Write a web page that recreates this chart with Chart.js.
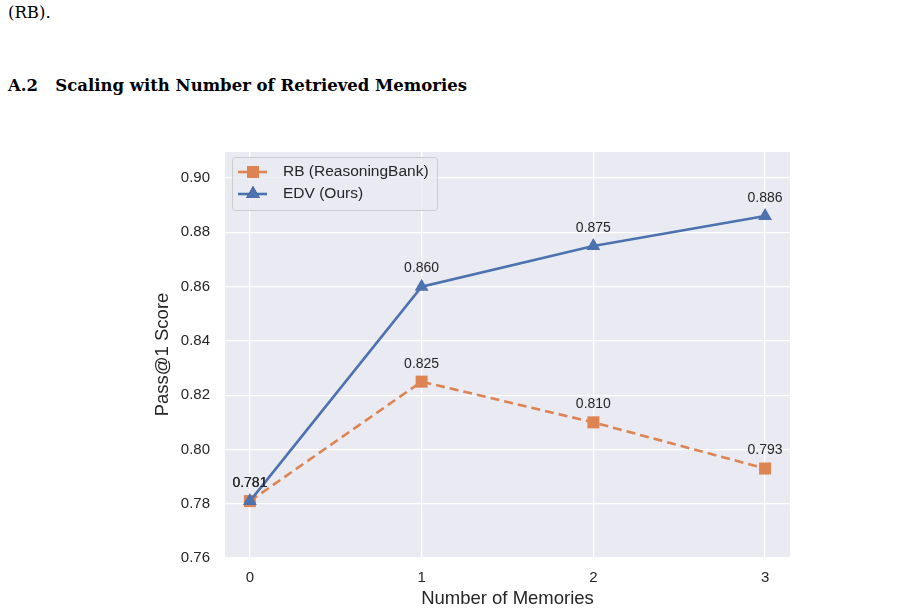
<!DOCTYPE html>
<html>
<head>
<meta charset="utf-8">
<script src="https://cdn.jsdelivr.net/npm/chart.js@4"></script>
<style>
  body { margin: 0; background: #fff; }
  #wrap { position: relative; width: 900px; height: 613px; overflow: hidden; }
  #canvas { position: absolute; left: 0; top: 0; }
  .txt { position: absolute; font-family: "DejaVu Serif", serif; color: #000; white-space: nowrap; }
</style>
</head>
<body>
<div id="wrap">
  <div class="txt" style="left:8px; top:3px; font-size:16.5px;">(RB).</div>
  <div class="txt" style="left:8px; top:76px; font-size:16.5px; font-weight:bold;">A.2&nbsp;&nbsp;&nbsp;Scaling with Number of Retrieved Memories</div>
  <canvas id="canvas" width="900" height="613"></canvas>
</div>
<script>
// memories on the x axis
var memories = [0, 1, 2, 3];
var rbScores = [0.781, 0.825, 0.810, 0.793];
var edvScores = [0.781, 0.860, 0.875, 0.886];
var yTicks = [0.76, 0.78, 0.80, 0.82, 0.84, 0.86, 0.88, 0.90];

var orange = '#DD8452';
var blue = '#4C72B0';

function toPoints(vals) {
  var pts = [];
  for (var i in memories) {
    pts.push({x: memories[i], y: vals[i]});
  }
  return pts;
}

// plot background
var bgPlugin = {
  id: 'bg',
  beforeDraw: function(chart) {
    var a = chart.chartArea;
    var ctx = chart.ctx;
    ctx.save();
    ctx.fillStyle = '#EAEAF2';
    ctx.fillRect(a.left, a.top, a.right - a.left, a.bottom - a.top);
    ctx.restore();
  }
};

// value labels over each point
var labelPlugin = {
  id: 'vals',
  afterDatasetsDraw: function(chart) {
    var ctx = chart.ctx;
    ctx.save();
    ctx.font = '14px "Liberation Sans", Arial, sans-serif';
    ctx.fillStyle = '#262626';
    ctx.textAlign = 'center';
    ctx.textBaseline = 'middle';
    chart.data.datasets.forEach(function(ds, di) {
      var meta = chart.getDatasetMeta(di);
      meta.data.forEach(function(pt, i) {
        ctx.fillText(ds.data[i].y.toFixed(3), pt.x, pt.y - 18);
      });
    });
    ctx.restore();
  }
};

// legend drawn inside the plot, upper left
var legendPlugin = {
  id: 'innerLegend',
  afterDraw: function(chart) {
    var ctx = chart.ctx;
    var a = chart.chartArea;
    var x0 = a.left + 7, y0 = a.top + 5, w = 205, h = 53;
    ctx.save();
    ctx.fillStyle = 'rgba(234,234,242,0.8)';
    ctx.strokeStyle = '#cccccc';
    ctx.lineWidth = 1;
    ctx.beginPath();
    ctx.roundRect(x0 + 0.5, y0 + 0.5, w, h, 3);
    ctx.fill();
    ctx.stroke();
    var items = [chart.data.datasets[0], chart.data.datasets[1]];
    items.forEach(function(ds, i) {
      var cy = y0 + 15 + i * 22;
      ctx.strokeStyle = ds.borderColor;
      ctx.lineWidth = 2.6;
      ctx.beginPath();
      ctx.moveTo(x0 + 6, cy);
      ctx.lineTo(x0 + 35, cy);
      ctx.stroke();
      Chart.helpers.drawPoint(ctx, {pointStyle: ds.pointStyle, radius: ds.pointRadius, borderWidth: 0}, x0 + 21, cy);
      ctx.fillStyle = ds.backgroundColor;
      ctx.fill();
      ctx.fillStyle = '#262626';
      ctx.font = '15.5px "Liberation Sans", Arial, sans-serif';
      ctx.textAlign = 'left';
      ctx.textBaseline = 'middle';
      ctx.fillText(ds.label, x0 + 51, cy);
    });
    ctx.restore();
  }
};

var ctx = document.getElementById('canvas').getContext('2d');
var config = {
  type: 'line',
  data: {
    datasets: [{
      label: 'RB (ReasoningBank)',
      data: toPoints(rbScores),
      borderColor: orange,
      backgroundColor: orange,
      borderWidth: 2.6,
      borderDash: [9, 5],
      pointStyle: 'rect',
      pointRadius: 8.5,
      pointBorderWidth: 0,
      order: 2
    }, {
      label: 'EDV (Ours)',
      data: toPoints(edvScores),
      borderColor: blue,
      backgroundColor: blue,
      borderWidth: 2.6,
      pointStyle: 'triangle',
      pointRadius: 8,
      pointBorderWidth: 0,
      order: 1
    }]
  },
  options: {
    responsive: false,
    animation: false,
    layout: { padding: { left: 145, top: 152, right: 110, bottom: 0 } },
    plugins: { legend: { display: false }, tooltip: { enabled: false } },
    scales: {
      x: {
        type: 'linear',
        min: -0.145,
        max: 3.145,
        afterFit: function(s) { s.height = 56; },
        afterBuildTicks: function(s) { s.ticks = memories.map(function(v) { return {value: v}; }); },
        grid: { color: '#ffffff', lineWidth: 1.3, drawTicks: false },
        border: { display: false },
        ticks: {
          padding: 12,
          color: '#262626',
          font: { family: '"Liberation Sans", Arial, sans-serif', size: 15 },
          callback: function(v) { return String(v); }
        },
        title: {
          display: true,
          text: 'Number of Memories',
          color: '#262626',
          padding: { top: 0, bottom: 3 },
          font: { family: '"Liberation Sans", Arial, sans-serif', size: 18.5 }
        }
      },
      y: {
        min: 0.7604,
        max: 0.9096,
        afterFit: function(s) { s.width = 80; },
        afterBuildTicks: function(s) { s.ticks = yTicks.map(function(v) { return {value: v}; }); },
        grid: { color: '#ffffff', lineWidth: 1.3, drawTicks: false },
        border: { display: false },
        ticks: {
          padding: 15,
          color: '#262626',
          font: { family: '"Liberation Sans", Arial, sans-serif', size: 15 },
          callback: function(v) { return v.toFixed(2); }
        },
        title: {
          display: true,
          text: 'Pass@1 Score',
          color: '#262626',
          padding: { top: 7, bottom: 0 },
          font: { family: '"Liberation Sans", Arial, sans-serif', size: 18.5 }
        }
      }
    }
  },
  plugins: [bgPlugin, labelPlugin, legendPlugin]
};

var chart = new Chart(ctx, config);
</script>
</body>
</html>
